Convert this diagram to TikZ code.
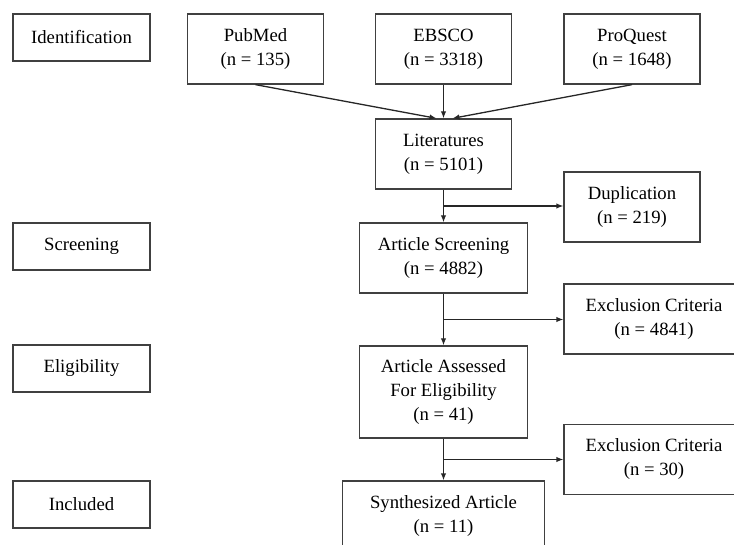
\documentclass[tikz,border=0pt]{standalone}
\usepackage{fontspec}
\setmainfont{Liberation Serif}
\usetikzlibrary{arrows, arrows.meta, shapes, calc, positioning}
\tikzstyle{stage} = [rectangle, minimum width=137pt, minimum height=47pt, text centered, draw=black!75, line width=1.3pt]
\tikzstyle{source} = [rectangle, minimum width=136pt, minimum height=70pt, text centered, align=center, draw=black!75, line width=1.3pt]
\tikzstyle{process} = [rectangle, minimum width=168pt, minimum height=70pt, text centered, align=center, draw=black!75, line width=1.3pt]
\tikzstyle{excluded} = [rectangle, minimum width=180pt, minimum height=70pt, text centered, align=center, draw=black!75, line width=1.3pt]
\tikzstyle{arrow} = [line width=1.3pt, draw=black!85, ->, >={Latex[length=7pt,width=5.5pt]}]

\begin{document}
\begin{tikzpicture}[x=1pt, y=1pt, node distance=104pt, font=\fontsize{18.7}{24}\selectfont]
    \useasboundingbox (0,0) rectangle (734,-545);
    \clip (0,0) rectangle (734,-545);
    % stages
    \node (identification) [stage] at (81.5,-37.5) {Identification};
    \node (screeningStage) [stage, below of=identification, node distance=209pt] {Screening};
    \node (eligibilityStage) [stage, below of=screeningStage, node distance=122pt] {Eligibility};
    \node (includedStage) [stage, below of=eligibilityStage, node distance=136pt] {Included};
    % records
    \node (pubmed) [source] at (255.5,-49) {PubMed\\(n = 135)};
    \node (ebsco) [source, right of=pubmed, node distance=188pt] {EBSCO\\(n = 3318)};
    \node (proquest) [source, right of=ebsco, node distance=188.5pt] {ProQuest\\(n = 1648)};
    \node (literatures) [source, below of=ebsco, node distance=105pt] {Literatures\\(n = 5101)};
    \node (articleScreening) [process, below of=literatures] {Article Screening\\(n = 4882)};
    \node (articleAssessed) [process, below of=articleScreening, node distance=134pt, minimum height=92pt]
        {Article Assessed\\For Eligibility\\(n = 41)};
    \node (synthesized) [process, below of=articleAssessed, node distance=124pt, minimum width=202pt]
        {Synthesized Article\\(n = 11)};
    \node (duplication) [source] at (632,-207) {Duplication\\(n = 219)};
    \node (exclusionScreen) [excluded] at (654,-319) {Exclusion Criteria\\(n = 4841)};
    \node (exclusionElig) [excluded] at (654,-459.5) {Exclusion Criteria\\(n = 30)};
    % split points
    \coordinate (splitA) at ($(literatures.south)!0.5!(articleScreening.north)$);
    \coordinate (splitB) at ($(articleScreening.south)!0.5!(articleAssessed.north)$);
    \coordinate (splitC) at ($(articleAssessed.south)!0.5!(synthesized.north)$);
    \draw [arrow] (pubmed.south) -- ([xshift=-7pt]literatures.north);
    \draw [arrow] (ebsco) -- (literatures);
    \draw [arrow] (proquest.south) -- ([xshift=9pt]literatures.north);
    \draw [arrow] (literatures) -- (articleScreening);
    \draw [arrow] (splitA) -- (splitA -| duplication.west);
    \draw [arrow] (articleScreening) -- (articleAssessed);
    \draw [arrow] (splitB) -- (splitB -| exclusionScreen.west);
    \draw [arrow] (articleAssessed) -- (synthesized);
    \draw [arrow] (splitC) -- (splitC -| exclusionElig.west);
\end{tikzpicture}
\end{document}
